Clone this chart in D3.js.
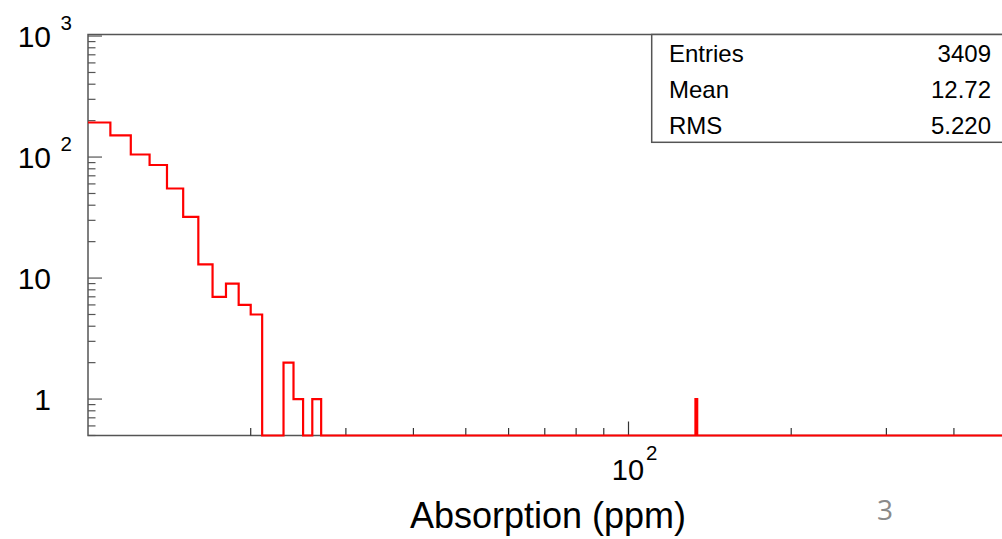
<!DOCTYPE html>
<html>
<head>
<meta charset="utf-8">
<script src="https://cdn.jsdelivr.net/npm/d3@7"></script>
<style>
  body { margin: 0; background: #fff; }
  text { font-family: "Liberation Sans", Arial, Helvetica, sans-serif; fill: #000; }
</style>
</head>
<body>
<svg id="chart0"></svg>
<script>
// histogram bins (lower edge, width 1 ppm) with non-zero content
var bin_start = [10, 11, 12, 13, 14, 15, 16, 17, 18, 19, 20, 23, 24, 26, 133];
var bin_count = [193, 151, 105, 86, 55, 32, 13, 7, 9, 6, 5, 2, 1, 1, 1];
var bin_width = 1;

var x_extent = [10, 500];
var y_extent = [0.5, 1030];

var y_major = [1, 10, 100, 1000];
var y_labels = [{'base': '1', 'exp': ''}, {'base': '10', 'exp': ''},
				{'base': '10', 'exp': '2'}, {'base': '10', 'exp': '3'}];
var x_minor = [20, 30, 40, 50, 60, 70, 80, 90, 200, 300, 400];
var x_major = [100];

var stats_names = ['Entries', 'Mean', 'RMS'];
var stats_values = ['3409', '12.72', '5.220'];

var x_title = 'Absorption (ppm)';
var page_number = '3';

// -------------------------------------------------------

var width = 1002;
var height = 539;
var frame = {'left': 88, 'right': 1006.3, 'top': 34.5, 'bottom': 435.5};
var axis_color = '#555';

var x_conv = d3.scaleLog()
	.domain(x_extent)
	.range([frame.left, frame.right]);

var y_conv = d3.scaleLog()
	.domain(y_extent)
	.range([frame.bottom, frame.top]);

var svg = d3.select('#chart0')
	.attr('width', width)
	.attr('height', height);

svg.append('defs').append('clipPath')
	.attr('id', 'frame_clip')
	.append('rect')
	.attr('x', frame.left)
	.attr('y', frame.top - 2)
	.attr('width', frame.right - frame.left)
	.attr('height', frame.bottom - frame.top + 4);

// frame
svg.append('path')
	.attr('d', 'M' + frame.right + ',' + frame.top + 'H' + frame.left + 'V' + frame.bottom + 'H' + frame.right)
	.attr('fill', 'none')
	.attr('stroke', axis_color)
	.attr('stroke-width', 1.5);

// y ticks: majors and 2..9 minors
var y_ticks = [];
for (var e = -1; e <= 3; e++) {
	for (var m = 1; m <= 9; m++) {
		var v = m * Math.pow(10, e);
		if (v >= y_extent[0] && v <= y_extent[1]) {
			y_ticks.push({'v': v, 'major': m == 1});
		}
	}
}

svg.selectAll('line.ytick')
	.data(y_ticks).enter()
	.append('line')
	.attr('class', 'ytick')
	.attr('x1', frame.left)
	.attr('x2', function(d) { return frame.left + (d.major ? 14 : 7.5); })
	.attr('y1', function(d) { return y_conv(d.v); })
	.attr('y2', function(d) { return y_conv(d.v); })
	.attr('stroke', axis_color)
	.attr('stroke-width', 1.2);

var x_ticks = x_minor.map(function(v) { return {'v': v, 'major': false}; })
	.concat(x_major.map(function(v) { return {'v': v, 'major': true}; }));

svg.selectAll('line.xtick')
	.data(x_ticks).enter()
	.append('line')
	.attr('class', 'xtick')
	.attr('x1', function(d) { return x_conv(d.v); })
	.attr('x2', function(d) { return x_conv(d.v); })
	.attr('y1', frame.bottom)
	.attr('y2', function(d) { return frame.bottom - (d.major ? 14 : 7.5); })
	.attr('stroke', '#333')
	.attr('stroke-width', 1.2);

// y labels
var ylab = svg.selectAll('g.ylab')
	.data(y_major).enter()
	.append('g')
	.attr('class', 'ylab');

ylab.append('text')
	.attr('x', 51)
	.attr('y', function(d) { return y_conv(d) + 10.5; })
	.attr('text-anchor', 'end')
	.attr('font-size', 30)
	.text(function(d, i) { return y_labels[i].base; });

ylab.append('text')
	.attr('x', 60.5)
	.attr('y', function(d) { return y_conv(d) - 6; })
	.attr('font-size', 20.5)
	.text(function(d, i) { return y_labels[i].exp; });

// x label 10^2
svg.selectAll('text.xlab')
	.data(x_major).enter()
	.append('text')
	.attr('class', 'xlab')
	.attr('x', function(d) { return x_conv(d) - 0.5; })
	.attr('y', 480)
	.attr('text-anchor', 'middle')
	.attr('font-size', 29)
	.text('10');

svg.selectAll('text.xlabexp')
	.data(x_major).enter()
	.append('text')
	.attr('class', 'xlabexp')
	.attr('x', function(d) { return x_conv(d) + 17.5; })
	.attr('y', 460)
	.attr('font-size', 20.5)
	.text('2');

// histogram step line (empty bins sit on the frame bottom)
var content = {};
for (var i = 0; i < bin_start.length; i++) {
	content[bin_start[i]] = bin_count[i];
}
var path_d = '';
for (var b = x_extent[0]; b < x_extent[1]; b += bin_width) {
	var c = content[b] || 0;
	var yy = c > 0 ? y_conv(c) : frame.bottom;
	if (b == x_extent[0]) {
		path_d += 'M' + x_conv(b) + ',' + yy;
	} else {
		path_d += 'V' + yy;
	}
	path_d += 'H' + x_conv(b + bin_width);
}

svg.append('path')
	.attr('d', path_d)
	.attr('clip-path', 'url(#frame_clip)')
	.attr('fill', 'none')
	.attr('stroke', '#ff0000')
	.attr('stroke-width', 2.2);

// stats box
svg.append('rect')
	.attr('x', 651.7)
	.attr('y', frame.top)
	.attr('width', 400)
	.attr('height', 142.3 - frame.top)
	.attr('fill', '#fff')
	.attr('stroke', axis_color)
	.attr('stroke-width', 1.5);

var stats_y = [61.5, 98, 133.5];

svg.selectAll('text.stat_name')
	.data(stats_names).enter()
	.append('text')
	.attr('class', 'stat_name')
	.attr('x', 669)
	.attr('y', function(d, i) { return stats_y[i]; })
	.attr('font-size', 24)
	.text(function(d) { return d; });

svg.selectAll('text.stat_value')
	.data(stats_values).enter()
	.append('text')
	.attr('class', 'stat_value')
	.attr('x', 991)
	.attr('y', function(d, i) { return stats_y[i]; })
	.attr('text-anchor', 'end')
	.attr('font-size', 24)
	.text(function(d) { return d; });

// axis title
svg.append('text')
	.attr('x', 548)
	.attr('y', 528)
	.attr('text-anchor', 'middle')
	.attr('font-size', 36)
	.text(x_title);

// slide page number
svg.append('text')
	.attr('x', 885)
	.attr('y', 519.5)
	.attr('text-anchor', 'middle')
	.attr('font-size', 28)
	.style('font-family', '"Open Sans", sans-serif')
	.style('fill', '#8a8a8a')
	.text(page_number);
</script>
</body>
</html>
